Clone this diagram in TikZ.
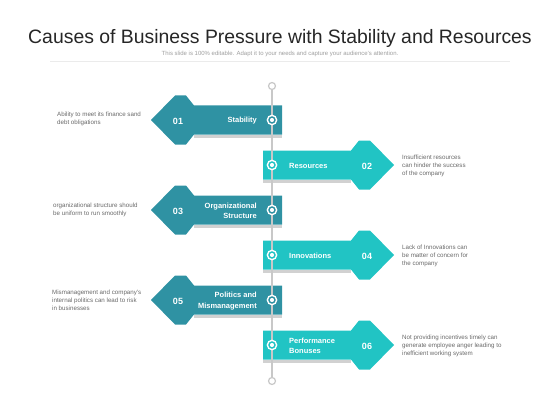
\documentclass[tikz,border=0pt]{standalone}
\usepackage{fontspec}
\setmainfont{Liberation Sans}
\definecolor{tealdark}{RGB}{47,146,163}
\definecolor{tealbright}{RGB}{33,196,196}
\definecolor{linegray}{RGB}{200,200,200}
\definecolor{textgray}{RGB}{105,105,105}

\begin{document}
\begin{tikzpicture}[x=1pt,y=-1pt,
	label node/.style={text=white,font=\fontsize{7.5}{10.5}\selectfont\bfseries,inner sep=0pt},
	num node/.style={text=white,font=\fontsize{9}{10}\selectfont\bfseries,inner sep=0pt},
	desc node/.style={text=textgray,font=\fontsize{6.2}{8}\selectfont,align=left,inner sep=0pt,anchor=west},
	ring/.style={circle,draw=#1,line width=1.4pt,fill=white,minimum size=6pt,inner sep=0pt,preaction={draw=white,line width=4.4pt}},
	end node/.style={circle,draw=linegray,line width=1.2pt,fill=white,minimum size=7pt,inner sep=0pt}]
	\useasboundingbox (0,0) rectangle (560,420);

	% heading
	\node (title) at (280,38) [font=\fontsize{19.4}{22}\selectfont,text=black!85] {Causes of Business Pressure with Stability and Resources};
	\node (sub) at (280,54) [font=\fontsize{6}{7}\selectfont,text=black!38] {This slide is 100\% editable. Adapt it to your needs and capture your audience's attention.};
	\draw[black!8,line width=1pt] (50,62) -- (510,62);

	% shadows
	\fill[black!18] (194,134.5) rectangle (282,137.5);
	\fill[black!18] (263,179.5) rectangle (351,182.5);
	\fill[black!18] (194,224.5) rectangle (282,227.5);
	\fill[black!18] (263,269.5) rectangle (351,272.5);
	\fill[black!18] (194,314.5) rectangle (282,317.5);
	\fill[black!18] (263,359.5) rectangle (351,362.5);

	% arrows
	\fill[tealdark,shift={(0,120)}] (282,-14.5) -- (194,-14.5) -- (186,-24.5) -- (175,-24.5) -- (151,0) -- (175,24.5) -- (186,24.5) -- (194,14.5) -- (282,14.5) -- cycle;
	\fill[tealbright,shift={(0,165)}] (263,-14.5) -- (351,-14.5) -- (359,-24.5) -- (370,-24.5) -- (394,0) -- (370,24.5) -- (359,24.5) -- (351,14.5) -- (263,14.5) -- cycle;
	\fill[tealdark,shift={(0,210)}] (282,-14.5) -- (194,-14.5) -- (186,-24.5) -- (175,-24.5) -- (151,0) -- (175,24.5) -- (186,24.5) -- (194,14.5) -- (282,14.5) -- cycle;
	\fill[tealbright,shift={(0,255)}] (263,-14.5) -- (351,-14.5) -- (359,-24.5) -- (370,-24.5) -- (394,0) -- (370,24.5) -- (359,24.5) -- (351,14.5) -- (263,14.5) -- cycle;
	\fill[tealdark,shift={(0,300)}] (282,-14.5) -- (194,-14.5) -- (186,-24.5) -- (175,-24.5) -- (151,0) -- (175,24.5) -- (186,24.5) -- (194,14.5) -- (282,14.5) -- cycle;
	\fill[tealbright,shift={(0,345)}] (263,-14.5) -- (351,-14.5) -- (359,-24.5) -- (370,-24.5) -- (394,0) -- (370,24.5) -- (359,24.5) -- (351,14.5) -- (263,14.5) -- cycle;

	% time line
	\node (top) at (272,86) [end node] {};
	\node (bot) at (272,381) [end node] {};
	\draw[linegray,line width=1.2pt] (top) -- (bot);

	\node (m1) at (272,120) [ring=tealdark] {};
	\node (m2) at (272,165) [ring=tealbright] {};
	\node (m3) at (272,210) [ring=tealdark] {};
	\node (m4) at (272,255) [ring=tealbright] {};
	\node (m5) at (272,300) [ring=tealdark] {};
	\node (m6) at (272,345) [ring=tealbright] {};

	% labels
	\node (n1) at (178,121) [num node] {01};
	\node (n2) at (367,166) [num node] {02};
	\node (n3) at (178,211) [num node] {03};
	\node (n4) at (367,256) [num node] {04};
	\node (n5) at (178,301) [num node] {05};
	\node (n6) at (367,346) [num node] {06};

	\node (l1) at (257,121) [label node,anchor=east] {Stability};
	\node (l2) at (289,166) [label node,anchor=west] {Resources};
	\node (l3) at (257,211) [label node,anchor=east,align=right] {Organizational\\Structure};
	\node (l4) at (289,256) [label node,anchor=west] {Innovations};
	\node (l5) at (257,301) [label node,anchor=east,align=right] {Politics and\\Mismanagement};
	\node (l6) at (289,346) [label node,anchor=west,align=left] {Performance\\Bonuses};

	% descriptions
	\node (d1) at (57,119) [desc node] {Ability to meet its finance sand\\debt obligations};
	\node (d2) at (402,166) [desc node] {Insufficient resources\\can hinder the success\\of the company};
	\node (d3) at (53,210) [desc node] {organizational structure should\\be uniform to run smoothly};
	\node (d4) at (402,256) [desc node] {Lack of Innovations can\\be matter of concern for\\the company};
	\node (d5) at (52,300) [desc node] {Mismanagement and company's\\internal politics can lead to risk\\in businesses};
	\node (d6) at (402,346) [desc node] {Not providing incentives timely can\\generate employee anger leading to\\inefficient working system};
\end{tikzpicture}
\end{document}
